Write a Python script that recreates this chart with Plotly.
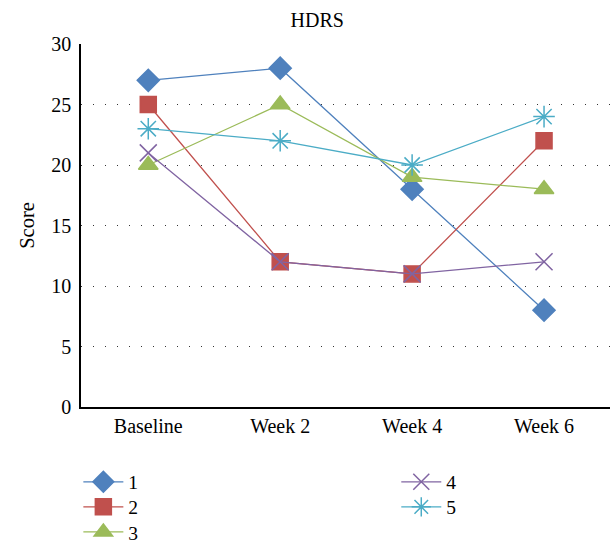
import plotly.graph_objects as go

categories = ["Baseline", "Week 2", "Week 4", "Week 6"]
series_names = ["1", "2", "3", "4", "5"]
s1 = [27, 28, 18, 8]
s2 = [25, 12, 11, 22]
s3 = [20, 25, 19, 18]
s4 = [21, 12, 11, 12]
s5 = [23, 22, 20, 24]
series_values = [s1, s2, s3, s4, s5]
y_ticks = [0, 5, 10, 15, 20, 25, 30]

colors = ["#4F81BD", "#C0504D", "#9BBB59", "#8064A2", "#4BACC6"]
symbols = ["diamond", "square", "triangle-up", "x-thin-open", "asterisk-open"]
sizes = [17, 16, 17, 17, 18]
legend_ids = ["legend", "legend2", "legend3", "legend4", "legend5"]
# legend placement: (paper x, paper y of row centre)
legend_pos = [(-0.005, -0.207), (-0.005, -0.276), (-0.005, -0.345),
              (0.596, -0.207), (0.596, -0.276)]

FONT = "Liberation Serif"

fig = go.Figure()
xs = list(range(len(categories)))
for name, vals, c, sym, sz, lg in zip(series_names, series_values, colors, symbols, sizes, legend_ids):
    fig.add_trace(go.Scatter(
        x=xs, y=vals, name=name, mode="lines+markers",
        line=dict(color=c, width=1.3),
        marker=dict(symbol=sym, size=sz, color=c, line=dict(color=c, width=1.5)),
        legend=lg,
    ))

legend_layout = {}
for lg, (lx, ly) in zip(legend_ids, legend_pos):
    legend_layout[lg] = dict(x=lx, y=ly, xanchor="left", yanchor="middle",
                             orientation="v", font=dict(family=FONT, size=19.5),
                             tracegroupgap=0, itemwidth=40, bgcolor="rgba(0,0,0,0)")

fig.update_layout(
    width=610, height=540,
    margin=dict(l=81, r=0, t=44, b=133, autoexpand=False),
    paper_bgcolor="white", plot_bgcolor="white",
    font=dict(family=FONT, size=20, color="black"),
    title=dict(text="HDRS", x=0.52, xanchor="center", y=0.963, yanchor="middle",
               font=dict(family=FONT, size=20, color="black")),
    showlegend=True,
    **legend_layout,
)
fig.update_xaxes(
    range=[-0.51, 3.5], tickmode="array", tickvals=xs, ticktext=categories,
    showgrid=False, showline=True, linecolor="black", linewidth=1.5,
    ticks="", zeroline=False, tickfont=dict(family=FONT, size=20),
)
fig.update_yaxes(
    range=[0, 30], tickmode="array", tickvals=y_ticks,
    showgrid=True, gridcolor="#333333", gridwidth=1.2, griddash="1px,11px",
    showline=True, linecolor="black", linewidth=1.5, ticks="", zeroline=False,
    ticklabelstandoff=4,
    title=dict(text="Score", font=dict(family=FONT, size=20.5), standoff=11),
    tickfont=dict(family=FONT, size=20),
)
fig.write_html("out.html",
               config={"displayModeBar": False},
               post_script="document.body.style.margin='0';document.body.style.overflow='hidden';")
